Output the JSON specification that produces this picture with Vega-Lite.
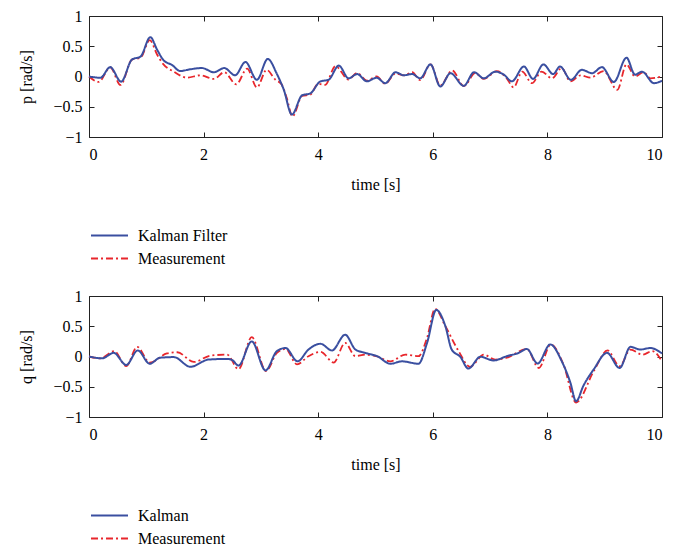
{
"$schema":"https://vega.github.io/schema/vega-lite/v6.json",
"background":"white",
"padding":{"left":18,"top":8,"right":5,"bottom":5},
"config":{"font":"Liberation Serif","view":{"stroke":null},
"axis":{"labelFont":"Liberation Serif","labelFontSize":16,"titleFont":"Liberation Serif","titleFontSize":16,"titleFontWeight":"normal","labelColor":"black","titleColor":"black","domainColor":"#222","tickColor":"#222","grid":false,"domainWidth":1,"tickWidth":1,"tickSize":-5,"format":"~r"},
"legend":{"orient":"none","legendX":10,"legendY":209,"title":null,"symbolType":"M-2,0H2","symbolSize":342,"symbolStrokeWidth":2,"labelFont":"Liberation Serif","labelFontSize":16,"labelColor":"black","labelOffset":18,"rowPadding":4}},
"datasets":{
"kp":[[0,0],[0.2,-0.02],[0.37,0.155],[0.56,-0.085],[0.75,0.28],[0.9,0.33],[1.07,0.65],[1.19,0.44],[1.3,0.27],[1.45,0.19],[1.59,0.09],[1.77,0.12],[1.97,0.14],[2.18,0.07],[2.36,0.14],[2.55,0.02],[2.73,0.24],[2.93,-0.055],[3.12,0.29],[3.28,0.04],[3.4,-0.22],[3.54,-0.63],[3.72,-0.31],[3.86,-0.28],[4.04,-0.08],[4.18,-0.055],[4.36,0.18],[4.53,-0.03],[4.68,0.04],[4.85,-0.08],[5.02,-0.02],[5.17,-0.11],[5.35,0.07],[5.49,0.02],[5.64,0.04],[5.78,-0.03],[5.96,0.2],[6.13,-0.165],[6.31,0.055],[6.54,-0.155],[6.72,0.07],[6.89,-0.03],[7.09,0.08],[7.24,0.03],[7.38,-0.08],[7.59,0.165],[7.75,-0.04],[7.93,0.2],[8.1,0.04],[8.22,0.165],[8.41,-0.055],[8.6,0.11],[8.78,0.055],[8.95,0.155],[9.16,-0.09],[9.38,0.31],[9.53,0.03],[9.65,0.08],[9.86,-0.11],[10,-0.07]],
"mp":[[0,0],[0.17,-0.09],[0.37,0.15],[0.55,-0.14],[0.75,0.28],[0.9,0.31],[1.06,0.6],[1.19,0.36],[1.3,0.2],[1.48,0.08],[1.71,-0.02],[1.94,0.02],[2.18,-0.04],[2.36,0.07],[2.57,-0.13],[2.76,0.13],[2.93,-0.18],[3.1,0.11],[3.25,-0.05],[3.36,-0.13],[3.45,-0.35],[3.55,-0.66],[3.72,-0.32],[3.86,-0.3],[4.0,-0.12],[4.12,-0.14],[4.3,0.17],[4.53,-0.05],[4.68,0.06],[4.85,-0.07],[5.02,0.0],[5.17,-0.12],[5.35,0.05],[5.5,0.02],[5.64,0.07],[5.78,-0.06],[5.96,0.2],[6.13,-0.15],[6.34,0.1],[6.54,-0.16],[6.74,0.055],[6.89,-0.04],[7.12,0.09],[7.29,-0.03],[7.41,-0.18],[7.56,0.08],[7.73,-0.11],[7.9,0.08],[8.08,-0.03],[8.25,0.14],[8.4,-0.08],[8.58,0.02],[8.75,-0.02],[8.98,0.09],[9.22,-0.22],[9.38,0.2],[9.53,0.0],[9.68,0.07],[9.8,-0.03],[10,0.0]],
"kq":[[0,0],[0.23,-0.03],[0.43,0.06],[0.65,-0.14],[0.85,0.1],[1.06,-0.12],[1.24,-0.02],[1.48,-0.01],[1.77,-0.17],[2.09,-0.05],[2.41,-0.04],[2.5,-0.06],[2.61,-0.15],[2.84,0.25],[3.08,-0.23],[3.28,0.09],[3.43,0.14],[3.64,-0.08],[3.83,0.115],[4.04,0.21],[4.24,0.1],[4.47,0.36],[4.65,0.115],[4.82,0.06],[5.03,0.005],[5.26,-0.12],[5.46,-0.08],[5.75,-0.12],[5.9,0.225],[6.06,0.77],[6.22,0.5],[6.33,0.115],[6.48,-0.005],[6.62,-0.2],[6.83,-0.005],[7.06,-0.065],[7.29,0.005],[7.5,0.06],[7.64,0.125],[7.83,-0.115],[8.05,0.2],[8.25,-0.077],[8.4,-0.43],[8.5,-0.74],[8.63,-0.48],[8.81,-0.21],[9.04,0.06],[9.26,-0.19],[9.45,0.16],[9.62,0.115],[9.8,0.14],[10,0.05]],
"mq":[[0,0],[0.2,-0.03],[0.44,0.09],[0.65,-0.16],[0.84,0.16],[1.06,-0.1],[1.36,0.05],[1.54,0.07],[1.83,-0.09],[2.12,0.015],[2.41,0.03],[2.61,-0.21],[2.84,0.32],[3.09,-0.24],[3.28,0.06],[3.43,0.125],[3.63,-0.13],[3.83,0.005],[4.04,0.077],[4.27,-0.1],[4.47,0.225],[4.65,0.005],[4.82,0.03],[5.03,0.0],[5.26,-0.08],[5.52,0.03],[5.75,0.005],[5.9,0.31],[6.04,0.79],[6.22,0.5],[6.45,0.09],[6.65,-0.17],[6.89,0.03],[7.09,-0.05],[7.29,-0.02],[7.64,0.125],[7.85,-0.19],[8.06,0.2],[8.28,-0.13],[8.5,-0.76],[8.81,-0.24],[9.05,0.1],[9.26,-0.16],[9.45,0.115],[9.66,0.03],[9.83,0.09],[10,-0.08]]
},
"spacing":159,
"bounds":"flush",
"resolve":{"scale":{"color":"independent","strokeDash":"independent"},"legend":{"color":"independent","strokeDash":"independent"}},
"vconcat":[
{"width":573,"height":121,
"layer":[
{"data":{"name":"mp"},"transform":[{"calculate":"'Measurement'","as":"s"}],
"mark":{"type":"line","strokeWidth":1.8,"interpolate":"monotone"},
"encoding":{
"x":{"field":"0","type":"quantitative","scale":{"domain":[0,10],"nice":false},"axis":{"orient":"bottom","values":[0,2,4,6,8,10],"labelPadding":14,"title":"time [s]","titlePadding":14}},
"y":{"field":"1","type":"quantitative","scale":{"domain":[-1,1],"nice":false},"axis":{"orient":"left","values":[-1,-0.5,0,0.5,1],"labelPadding":12,"title":"p [rad/s]","titlePadding":18}},
"color":{"field":"s","type":"nominal","scale":{"domain":["Kalman Filter","Measurement"],"range":["#3A4FA0","#E8262C"]}},
"strokeDash":{"field":"s","type":"nominal","scale":{"domain":["Kalman Filter","Measurement"],"range":[[1,0],[7,3,2,3]]}}}},
{"data":{"name":"kp"},"transform":[{"calculate":"'Kalman Filter'","as":"s"}],
"mark":{"type":"line","strokeWidth":2,"interpolate":"monotone"},
"encoding":{
"x":{"field":"0","type":"quantitative","axis":{"orient":"top","values":[0,2,4,6,8,10],"labels":false,"title":null}},
"y":{"field":"1","type":"quantitative","axis":{"orient":"right","values":[-1,-0.5,0,0.5,1],"labels":false,"title":null}},
"color":{"field":"s","type":"nominal"},
"strokeDash":{"field":"s","type":"nominal"}}}
],
"resolve":{"axis":{"x":"independent","y":"independent"}}},
{"width":573,"height":121,
"layer":[
{"data":{"name":"mq"},"transform":[{"calculate":"'Measurement'","as":"s"}],
"mark":{"type":"line","strokeWidth":1.8,"interpolate":"monotone"},
"encoding":{
"x":{"field":"0","type":"quantitative","scale":{"domain":[0,10],"nice":false},"axis":{"orient":"bottom","values":[0,2,4,6,8,10],"labelPadding":14,"title":"time [s]","titlePadding":14}},
"y":{"field":"1","type":"quantitative","scale":{"domain":[-1,1],"nice":false},"axis":{"orient":"left","values":[-1,-0.5,0,0.5,1],"labelPadding":12,"title":"q [rad/s]","titlePadding":18}},
"color":{"field":"s","type":"nominal","scale":{"domain":["Kalman","Measurement"],"range":["#3A4FA0","#E8262C"]}},
"strokeDash":{"field":"s","type":"nominal","scale":{"domain":["Kalman","Measurement"],"range":[[1,0],[7,3,2,3]]}}}},
{"data":{"name":"kq"},"transform":[{"calculate":"'Kalman'","as":"s"}],
"mark":{"type":"line","strokeWidth":2,"interpolate":"monotone"},
"encoding":{
"x":{"field":"0","type":"quantitative","axis":{"orient":"top","values":[0,2,4,6,8,10],"labels":false,"title":null}},
"y":{"field":"1","type":"quantitative","axis":{"orient":"right","values":[-1,-0.5,0,0.5,1],"labels":false,"title":null}},
"color":{"field":"s","type":"nominal"},
"strokeDash":{"field":"s","type":"nominal"}}}
],
"resolve":{"axis":{"x":"independent","y":"independent"}}}
]
}
